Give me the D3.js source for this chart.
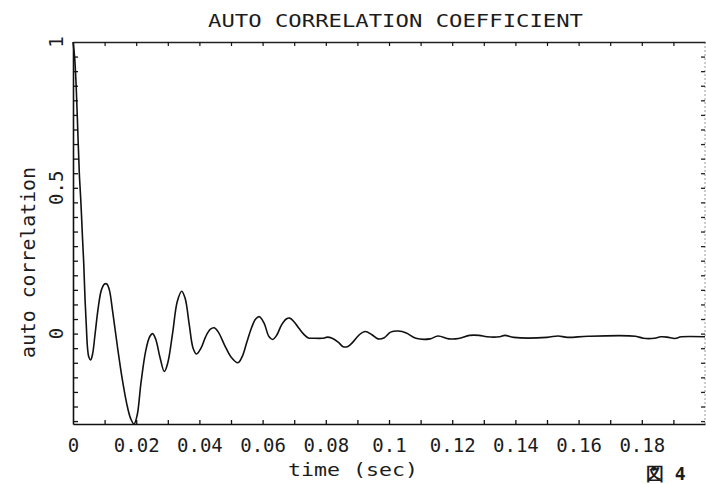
<!DOCTYPE html>
<html><head><meta charset="utf-8">
<script src="https://cdn.jsdelivr.net/npm/d3@7"></script>
<style>
html,body{margin:0;padding:0;background:#fff;}
svg{display:block;}
text{font-family:"DejaVu Sans Mono",monospace;fill:#1c1c1c;}
</style></head><body>
<svg id="chart" width="706" height="484"></svg>
<script>
// Autocorrelation coefficient samples (time in seconds)
const timeSec = [
  0, 0.0005, 0.0010, 0.0015, 0.0020, 0.0025, 0.0030, 0.0034, 0.0038, 0.0042,
  0.0046, 0.0050, 0.0056, 0.0062, 0.0070, 0.0080, 0.0090, 0.0100, 0.0107, 0.0115,
  0.0125, 0.0140, 0.0155, 0.0170, 0.0182, 0.0193, 0.0203, 0.0215, 0.0230, 0.0243,
  0.0252, 0.0262, 0.0275, 0.0289, 0.0300, 0.0315, 0.0330, 0.0344, 0.0355, 0.0368,
  0.0380, 0.0391, 0.0405, 0.0420, 0.0435, 0.0447, 0.0460, 0.0480, 0.0500, 0.0522,
  0.0535, 0.0550, 0.0565, 0.0578, 0.0590, 0.0605, 0.0620, 0.0632, 0.0645, 0.0660,
  0.0675, 0.0686, 0.0700, 0.0715, 0.0730, 0.0745, 0.0760, 0.0790, 0.0805, 0.0820,
  0.0840, 0.0855, 0.0870, 0.0885, 0.0905, 0.0925, 0.0945, 0.0965, 0.0985, 0.1005,
  0.1030, 0.1055, 0.1085, 0.1130, 0.1155, 0.1190, 0.1220, 0.1255, 0.1285, 0.1310,
  0.1350, 0.1367, 0.1395, 0.1500, 0.1535, 0.1565, 0.1630, 0.1780, 0.1805, 0.1840,
  0.1860, 0.1880, 0.1905, 0.1925, 0.2000
];
const autoCorr = [
  1.00, 0.95, 0.85, 0.70, 0.55, 0.45, 0.33, 0.24, 0.12, 0.03,
  -0.05, -0.08, -0.09, -0.07, 0.00, 0.09, 0.15, 0.17, 0.17, 0.15,
  0.08, -0.04, -0.15, -0.24, -0.29, -0.31, -0.28, -0.17, -0.06, -0.01,
  0.00, -0.02, -0.08, -0.13, -0.10, 0.00, 0.11, 0.145, 0.12, 0.03,
  -0.05, -0.07, -0.05, -0.01, 0.015, 0.02, 0.005, -0.04, -0.08, -0.10,
  -0.08, -0.03, 0.02, 0.05, 0.058, 0.035, -0.01, -0.02, -0.005, 0.03,
  0.05, 0.053, 0.04, 0.018, -0.002, -0.015, -0.016, -0.016, -0.012, -0.016,
  -0.03, -0.045, -0.044, -0.03, -0.005, 0.007, -0.003, -0.018, -0.014, 0.005,
  0.009, 0.002, -0.016, -0.018, -0.008, -0.018, -0.017, -0.006, -0.006, -0.011,
  -0.011, -0.006, -0.013, -0.013, -0.008, -0.013, -0.009, -0.009, -0.016, -0.016,
  -0.011, -0.012, -0.017, -0.011, -0.011
];

const xMajorTicks = [0, 0.02, 0.04, 0.06, 0.08, 0.1, 0.12, 0.14, 0.16, 0.18];
const xTickLabels = ["0", "0.02", "0.04", "0.06", "0.08", "0.1", "0.12", "0.14", "0.16", "0.18"];
const xMinorTicks = [0.01, 0.02, 0.03, 0.04, 0.05, 0.06, 0.07, 0.08, 0.09, 0.1,
  0.11, 0.12, 0.13, 0.14, 0.15, 0.16, 0.17, 0.18, 0.19];
const yMajorTicks = [0, 0.5, 1];
const yTickLabels = ["0", "0.5", "1"];
const yMinorTicks = [-0.3, -0.25, -0.2, -0.15, -0.1, -0.05, 0, 0.05, 0.1, 0.15, 0.2,
  0.25, 0.3, 0.35, 0.4, 0.45, 0.5, 0.55, 0.6, 0.65, 0.7, 0.75, 0.8, 0.85, 0.9, 0.95];

const titleText = "AUTO CORRELATION COEFFICIENT";
const xTitle = "time (sec)";
const yTitle = "auto correlation";
const figLabel = "図 4";

const svg = d3.select("#chart");
const L = 73, R = 705, T = 42, B = 424;
const x = d3.scaleLinear().domain([0, 0.2]).range([L, R]);
const y = d3.scaleLinear().domain([-0.31, 1]).range([B, T]);

// frame: right side is a faint dotted line
svg.append("line").attr("x1", R).attr("x2", R).attr("y1", T).attr("y2", B)
  .attr("stroke", "#9a9a9a").attr("stroke-width", 1).attr("stroke-dasharray", "2,2");

// bottom axis: inward minor ticks
svg.append("g").attr("transform", `translate(0,${B})`)
  .call(d3.axisBottom(x).tickValues(xMinorTicks).tickSizeInner(-4).tickSizeOuter(0).tickFormat(""))
  .call(g => g.select(".domain").attr("stroke", "#111").attr("stroke-width", 1.6))
  .call(g => g.selectAll(".tick line").attr("stroke", "#111").attr("stroke-width", 1.3));

// top axis: inward minor ticks
svg.append("g").attr("transform", `translate(0,${T})`)
  .call(d3.axisTop(x).tickValues(xMinorTicks).tickSizeInner(-4).tickSizeOuter(0).tickFormat(""))
  .call(g => g.select(".domain").attr("stroke", "#222").attr("stroke-width", 1.4))
  .call(g => g.selectAll(".tick line").attr("stroke", "#111").attr("stroke-width", 1.2));

// left axis: inward ticks every 0.05
svg.append("g").attr("transform", `translate(${L},0)`)
  .call(d3.axisLeft(y).tickValues(yMinorTicks).tickSizeInner(-5).tickSizeOuter(0).tickFormat(""))
  .call(g => g.select(".domain").attr("stroke", "#111").attr("stroke-width", 1.6))
  .call(g => g.selectAll(".tick line").attr("stroke", "#111").attr("stroke-width", 1.3));

// right axis ticks
svg.append("g").attr("transform", `translate(${R},0)`)
  .call(d3.axisRight(y).tickValues(yMinorTicks).tickSizeInner(-4).tickSizeOuter(0).tickFormat(""))
  .call(g => g.select(".domain").remove())
  .call(g => g.selectAll(".tick line").attr("stroke", "#222").attr("stroke-width", 1.3));

// bottom tick labels
svg.append("g").attr("transform", `translate(0,${B})`)
  .call(d3.axisBottom(x).tickValues(xMajorTicks).tickSize(0).tickPadding(14.5)
    .tickFormat((d, i) => xTickLabels[i]))
  .call(g => g.select(".domain").remove())
  .call(g => g.selectAll("text").attr("font-size", 19).attr("font-family", "DejaVu Sans Mono").attr("fill", "#1c1c1c"));

// left tick labels, rotated
svg.append("g").selectAll("text").data(yMajorTicks).join("text")
  .attr("transform", d => `translate(63,${y(d)}) rotate(-90)`)
  .attr("text-anchor", "middle").attr("font-size", 19)
  .text((d, i) => yTickLabels[i]);

// curve
const line = d3.line().x((d, i) => x(timeSec[i])).y(d => y(d)).curve(d3.curveCatmullRom.alpha(0.5));
svg.append("path").datum(autoCorr).attr("d", line)
  .attr("fill", "none").attr("stroke", "#111").attr("stroke-width", 1.6).attr("stroke-linejoin", "round");

// titles
svg.append("text").attr("x", 208).attr("y", 27).attr("font-size", 18)
  .attr("textLength", 375).attr("lengthAdjust", "spacingAndGlyphs").text(titleText);
svg.append("text").attr("x", 288).attr("y", 476).attr("font-size", 18)
  .attr("textLength", 130).attr("lengthAdjust", "spacingAndGlyphs").text(xTitle);
svg.append("text").attr("transform", "translate(35,358) rotate(-90)").attr("font-size", 20)
  .attr("textLength", 191).attr("lengthAdjust", "spacingAndGlyphs").text(yTitle);
svg.append("text").attr("x", 646).attr("y", 480).attr("font-size", 18)
  .attr("font-family", "'Noto Sans CJK JP', sans-serif").attr("font-weight", 700).text(figLabel);
</script>
</body></html>
